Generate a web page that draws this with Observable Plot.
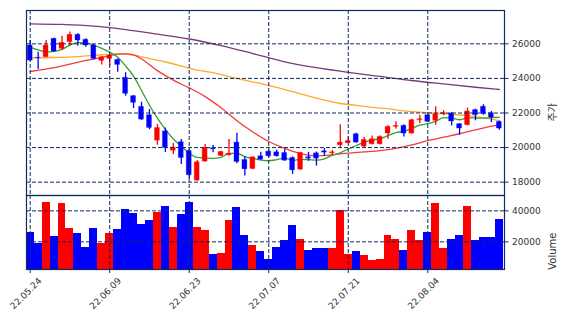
<!DOCTYPE html>
<html><head><meta charset="utf-8">
<script src="https://cdn.jsdelivr.net/npm/d3@7"></script>
<script src="https://cdn.jsdelivr.net/npm/@observablehq/plot@0.6"></script>
<style>
body{margin:0;background:#fff;}
#chart svg{display:block;}
</style></head><body><div id="chart"></div>
<script>
const dates = ["22.05.24","22.05.25","22.05.26","22.05.27","22.05.30","22.05.31","22.06.02","22.06.03","22.06.07","22.06.08",
"22.06.09","22.06.10","22.06.13","22.06.14","22.06.15","22.06.16","22.06.17","22.06.20","22.06.21","22.06.22",
"22.06.23","22.06.24","22.06.27","22.06.28","22.06.29","22.06.30","22.07.01","22.07.04","22.07.05","22.07.06",
"22.07.07","22.07.08","22.07.11","22.07.12","22.07.13","22.07.14","22.07.15","22.07.18","22.07.19","22.07.20",
"22.07.21","22.07.22","22.07.25","22.07.26","22.07.27","22.07.28","22.07.29","22.08.01","22.08.02","22.08.03",
"22.08.04","22.08.05","22.08.08","22.08.09","22.08.10","22.08.11","22.08.12","22.08.16","22.08.17","22.08.18"];

const open = [25900,25200,25226,26290,25710,26097,26523,26232,25903,25013,
25129,25071,24039,22974,22354,21870,20400,20941,19818,20310,
19800,18088,19188,19960,19516,19555,20290,19284,18761,19497,
19767,19728,19690,19400,18722,19439,19669,19786,19671,20134,
20250,20773,20056,20192,20192,20812,21199,21257,20812,21586,
21876,21547,21934,21973,21354,21296,22167,22360,21992,21489];

const high = [26190,25516,26194,26330,26445,26678,26580,26290,25961,25264,
25361,25129,24329,23013,22626,22200,21330,21135,20233,20465,
19884,19246,20175,20116,19787,20470,20833,19477,19458,19730,
19845,19845,19884,19458,19728,19728,19748,19942,19826,21315,
20618,20831,20579,20676,20676,21257,21489,21315,21644,21876,
21934,22360,22128,22031,21392,22283,22225,22477,22089,21528];

const low = [24990,24509,25226,25516,25613,25864,25864,25806,25071,24780,
24703,24354,22974,22258,21560,21038,20130,19720,19590,19015,
18185,18050,19150,19700,19478,19516,19070,18355,18722,19264,
19400,19458,19206,18452,18684,19206,18934,19497,19535,19998,
20231,20250,19998,20153,20153,20482,21063,20618,20773,21392,
21450,21296,21838,21257,20715,21257,21547,21876,21450,21005];

const close = [25030,25170,25903,25555,26058,26523,26194,25903,25129,25226,
25322,24780,23110,22587,21619,21135,21135,19974,20000,19400,
18400,19150,19980,19900,19748,19652,19168,18742,19439,19303,
19497,19497,19245,18684,19690,19361,19360,19708,19728,20289,
20386,20289,20444,20482,20618,21199,21257,20812,21586,21644,
21489,21934,21992,21508,21102,22089,21876,21934,21741,21102];

const volume = [26000,19100,45400,23400,44700,28600,25400,16300,28600,19100,
25400,28000,40900,38300,31200,33800,38900,42800,29200,37600,
45400,29200,27300,11800,12500,33800,42200,24100,17600,13800,
8800,16300,20900,30500,21500,14400,15700,15700,15700,40200,
11800,13800,11200,8000,8600,24100,21500,14400,27300,20900,
26000,44700,15700,21500,24100,42800,20900,22800,22800,34400];

// moving averages
const ma5 = [25800,25650,25530,25560,25680,25930,26070,26050,25920,25740,
25520,25220,24720,24130,23300,22450,21700,21050,20500,20080,
19680,19430,19400,19380,19440,19650,19680,19470,19370,19280,
19240,19300,19390,19260,19320,19300,19270,19350,19560,19700,
19920,20120,20300,20430,20520,20690,20870,20930,21110,21300,
21380,21520,21730,21710,21610,21720,21710,21700,21740,21750];

const ma20Idx = [0,3,5,7,9,11,12,13,14,16,18,20,22,24,26,28,30,32,34,36,38,40,42,44,46,48,50,52,54,56,58,59];
const ma20Val = [24400,24620,24830,25040,25220,25400,25420,25360,25120,24450,23900,23450,22950,22300,21550,20900,20350,19950,19650,19520,19580,19680,19750,19830,19960,20150,20400,20600,20800,21020,21240,21330];

const ma60Idx = [0,3,6,9,11,13,15,17,19,21,23,25,27,29,31,33,35,37,39,41,43,45,47,49,51,53,55,57,59];
const ma60Val = [25190,25210,25260,25370,25420,25350,25150,24950,24720,24480,24340,24100,23900,23700,23480,23230,22980,22750,22550,22440,22320,22250,22120,22050,21990,21920,21850,21720,21560];

const ma120Idx = [0,4,8,12,16,20,24,28,32,36,40,44,48,52,56,59];
const ma120Val = [27160,27120,27020,26820,26560,26280,25900,25440,24960,24620,24350,24120,23880,23680,23490,23360];

const xTicks = [0,10,20,30,40,50];
const priceTicks = [18000,20000,22000,24000,26000];
const volTicks = [20000,40000];

const NAVY = "#102b5e";
const UP = "#ff0000", DOWN = "#0000ff";
const FONT = "DejaVu Sans";
const TXT = "#333333";

const candles = dates.map((d, i) => ({i, date: d, open: open[i], high: high[i], low: low[i], close: close[i], volume: volume[i], color: close[i] >= open[i] ? UP : DOWN}));
const m5 = ma5.map((v, i) => ({i, v}));
const m20 = ma20Idx.map((k, j) => ({i: k, v: ma20Val[j]}));
const m60 = ma60Idx.map((k, j) => ({i: k, v: ma60Val[j]}));
const m120 = ma120Idx.map((k, j) => ({i: k, v: ma120Val[j]}));

const xDomain = [-0.465, 59.65];
const W = 568;
const gridStyle = {stroke: NAVY, strokeOpacity: 1, strokeWidth: 1, strokeDasharray: "4,2"};

const price = Plot.plot({
  width: W, height: 195, marginTop: 10, marginBottom: 0, marginLeft: 26, marginRight: 64,
  style: {fontFamily: FONT, fontSize: "9px", background: "#fff", overflow: "visible"},
  x: {type: "linear", domain: xDomain, axis: null},
  y: {domain: [17229, 27928], axis: null},
  marks: [
    Plot.line(m120, {x: "i", y: "v", stroke: "#7a3a78", strokeWidth: 1.3, curve: "monotone-x"}),
    Plot.line(m60, {x: "i", y: "v", stroke: "#ffaa2e", strokeWidth: 1.3, curve: "monotone-x"}),
    Plot.line(m20, {x: "i", y: "v", stroke: "#f23c3c", strokeWidth: 1.3, curve: "monotone-x"}),
    Plot.line(m5, {x: "i", y: "v", stroke: "#34a034", strokeWidth: 1.3, curve: "monotone-x"}),
    Plot.ruleX(candles, {x: "i", y1: "low", y2: "high", stroke: "color", strokeWidth: 1.3}),
    Plot.rect(candles, {x1: d => d.i - 0.5, x2: d => d.i + 0.5, y1: "open", y2: "close", fill: "color", stroke: "color", strokeOpacity: 0.25, strokeWidth: 1, insetLeft: 1.5, insetRight: 1.5}),
    Plot.gridY(priceTicks, gridStyle),
    Plot.gridX(xTicks, gridStyle),
    Plot.axisY(priceTicks, {anchor: "right", tickSize: 3.5, tickPadding: 4, stroke: NAVY, fill: TXT, tickFormat: d => String(d), label: null, fontSize: 9}),
    Plot.text(["주가"], {frameAnchor: "right", dx: 48, rotate: -90, fontFamily: "Noto Sans CJK KR", fontSize: 10, fill: TXT}),
    Plot.frame({stroke: NAVY, strokeWidth: 1.2})
  ]
});

const vol = Plot.plot({
  width: W, height: 131, marginTop: 0, marginBottom: 57, marginLeft: 26, marginRight: 64,
  style: {fontFamily: FONT, fontSize: "9px", background: "#fff", overflow: "visible"},
  x: {type: "linear", domain: xDomain, axis: null},
  y: {domain: [2150, 49890], axis: null},
  marks: [
    Plot.rect(candles, {x1: d => d.i - 0.5, x2: d => d.i + 0.5, y1: () => 0, y2: "volume", fill: "color", clip: true, shapeRendering: "crispEdges"}),
    Plot.gridY(volTicks, gridStyle),
    Plot.gridX(xTicks, gridStyle),
    Plot.axisY(volTicks, {anchor: "right", tickSize: 3.5, tickPadding: 4, stroke: NAVY, fill: TXT, tickFormat: d => String(d), label: null, fontSize: 9}),
    Plot.axisX(xTicks, {anchor: "bottom", tickSize: 4, tickFormat: () => "", stroke: NAVY, label: null}),
    Plot.text(xTicks, {x: d => d, frameAnchor: "bottom", text: d => dates[d], rotate: -45, textAnchor: "end", dx: 12, dy: 12, fill: TXT, fontSize: 9}),
    Plot.text(["Volume"], {frameAnchor: "right", dx: 48, rotate: -90, fill: TXT, fontSize: 10}),
    Plot.frame({stroke: NAVY, strokeWidth: 1.2})
  ]
});

const el = document.getElementById("chart");
el.appendChild(price);
el.appendChild(vol);
</script>
</body></html>
